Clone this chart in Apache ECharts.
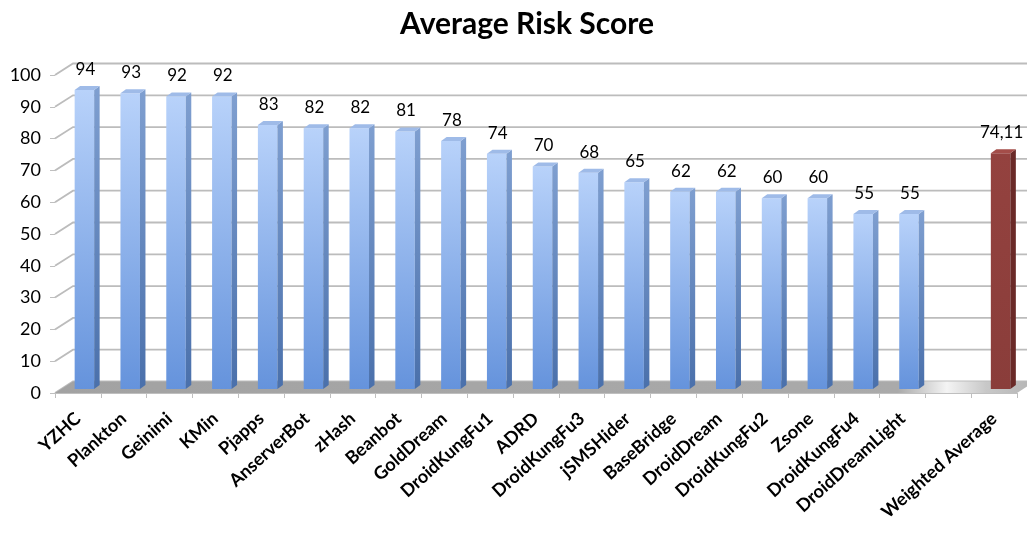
<!DOCTYPE html>
<html>
<head>
<meta charset="utf-8">
<script src="https://cdn.jsdelivr.net/npm/echarts@6/dist/echarts.min.js"></script>
<style>
  html, body { margin: 0; padding: 0; background: #ffffff; }
  #chart { width: 1027px; height: 538px; }
</style>
</head>
<body>
<div id="chart"></div>
<script>
// Malware families and their average risk score; the empty slot separates the overall average.
const categories = ['YZHC', 'Plankton', 'Geinimi', 'KMin', 'Pjapps', 'AnserverBot', 'zHash', 'Beanbot',
  'GoldDream', 'DroidKungFu1', 'ADRD', 'DroidKungFu3', 'jSMSHider', 'BaseBridge', 'DroidDream',
  'DroidKungFu2', 'Zsone', 'DroidKungFu4', 'DroidDreamLight', '', 'Weighted Average'];
const riskScores = [94, 93, 92, 92, 83, 82, 82, 81, 78, 74, 70, 68, 65, 62, 62, 60, 60, 55, 55, null, 74.11];
const averageIndex = 20;
const yTicks = [0, 10, 20, 30, 40, 50, 60, 70, 80, 90, 100];

const FONT = 'Lato, "Open Sans", "Liberation Sans", sans-serif';

// pseudo-3D geometry (pixels)
const WALL_DX = 18, WALL_DY = 11.5;   // depth of the floor / back wall
const BAR_W = 19.5, BAR_SHIFT = 6.5;  // bar front face width and offset into the depth
const BAR_LIFT = 4;                   // bars stand slightly behind the front edge
const BAR_DX = 5.5, BAR_DY = 4;       // bar depth (side + top faces)

const blue = {
  front: new echarts.graphic.LinearGradient(0, 0, 0, 1, [
    { offset: 0, color: '#b8d2fa' }, { offset: 1, color: '#6593dc' }]),
  side: new echarts.graphic.LinearGradient(0, 0, 0, 1, [
    { offset: 0, color: '#7f9fd0' }, { offset: 1, color: '#4a70ab' }]),
  top: '#9fbbe8'
};
const red = {
  front: new echarts.graphic.LinearGradient(0, 0, 0, 1, [
    { offset: 0, color: '#94423f' }, { offset: 1, color: '#8a3d3a' }]),
  side: '#6a2a28',
  top: '#a44d49'
};

const barData = [];
riskScores.forEach((v, i) => { if (v !== null) barData.push([i, v]); });

function formatScore(v) {
  return String(v).replace('.', ',');
}

function renderBar(params, api) {
  const i = api.value(0), v = api.value(1);
  const base = api.coord([i, 0]);
  const top = api.coord([i, v]);
  const cx = base[0] + BAR_SHIFT;
  const x0 = cx - BAR_W / 2, x1 = cx + BAR_W / 2;
  const yb = base[1] - BAR_LIFT, yt = top[1] - BAR_LIFT;
  const pal = i === averageIndex ? red : blue;
  return {
    type: 'group',
    children: [
      { type: 'rect', shape: { x: x0, y: yt, width: BAR_W, height: yb - yt }, style: { fill: pal.front } },
      { type: 'polygon', shape: { points: [[x1, yt], [x1 + BAR_DX, yt - BAR_DY], [x1 + BAR_DX, yb - BAR_DY], [x1, yb]] },
        style: { fill: pal.side } },
      { type: 'polygon', shape: { points: [[x0, yt], [x1, yt], [x1 + BAR_DX, yt - BAR_DY], [x0 + BAR_DX, yt - BAR_DY]] },
        style: { fill: pal.top } },
      { type: 'text', style: {
          text: formatScore(v), x: cx + 1, y: yt - BAR_DY - 8,
          align: 'center', verticalAlign: 'bottom', textAlign: 'center', textVerticalAlign: 'bottom',
          fontSize: 17, fontFamily: FONT, fill: '#000000' } }
    ]
  };
}

function renderGridLine(params, api) {
  const v = api.value(1);
  const cs = params.coordSys;
  const y = api.coord([0, v])[1];
  return {
    type: 'polyline',
    shape: { points: [[cs.x, y], [cs.x + WALL_DX, y - WALL_DY], [api.getWidth(), y - WALL_DY]] },
    style: { stroke: '#bcbcbc', lineWidth: 1.8, fill: null }
  };
}

function renderFloor(params, api) {
  const cs = params.coordSys;
  const y = api.coord([0, 0])[1];
  const xl = cs.x, xr = cs.x + cs.width;
  return {
    type: 'polygon',
    shape: { points: [[xl, y], [xr, y], [xr + WALL_DX, y - WALL_DY], [xl + WALL_DX, y - WALL_DY]] },
    style: {
      fill: new echarts.graphic.LinearGradient(0, 0, 1, 0, [
        { offset: 0, color: '#a2a2a2' }, { offset: 0.86, color: '#aaaaaa' },
        { offset: 0.91, color: '#f4f4f4' }, { offset: 0.95, color: '#c8c8c8' }, { offset: 1, color: '#b4b4b4' }])
    }
  };
}

const chart = echarts.init(document.getElementById('chart'), null, { renderer: 'canvas' });
chart.setOption({
  animation: false,
  backgroundColor: '#ffffff',
  title: {
    text: 'Average Risk Score',
    left: 522, top: 4, textAlign: 'center',
    textStyle: { fontFamily: FONT, fontWeight: 'bold', fontSize: 30, color: '#000000' }
  },
  grid: { left: 55, right: 10, top: 75, bottom: 145, containLabel: false },
  xAxis: {
    type: 'category',
    data: categories,
    axisLine: { show: true, lineStyle: { color: '#bfbfbf', width: 1 } },
    axisTick: { show: true, length: 5, lineStyle: { color: '#bfbfbf' } },
    axisLabel: {
      interval: 0, rotate: 42, margin: 23,
      fontFamily: FONT, fontWeight: 'bold', fontSize: 18, color: '#000000'
    },
    splitLine: { show: false }
  },
  yAxis: {
    type: 'value',
    min: 0, max: 100, interval: 10,
    axisLine: { show: false },
    axisTick: { show: true, length: 5, lineStyle: { color: '#bfbfbf' } },
    axisLabel: { margin: 14, fontFamily: FONT, fontSize: 18, color: '#000000' },
    splitLine: { show: false }
  },
  series: [
    { type: 'custom', name: 'wall', renderItem: renderGridLine, data: yTicks.map(v => [0, v]), z: 1, silent: true, clip: false },
    { type: 'custom', name: 'floor', renderItem: renderFloor, data: [[0, 0]], z: 2, silent: true, clip: false },
    { type: 'custom', name: 'Average Risk Score', renderItem: renderBar, data: barData, z: 3, clip: false }
  ]
});
</script>
</body>
</html>
